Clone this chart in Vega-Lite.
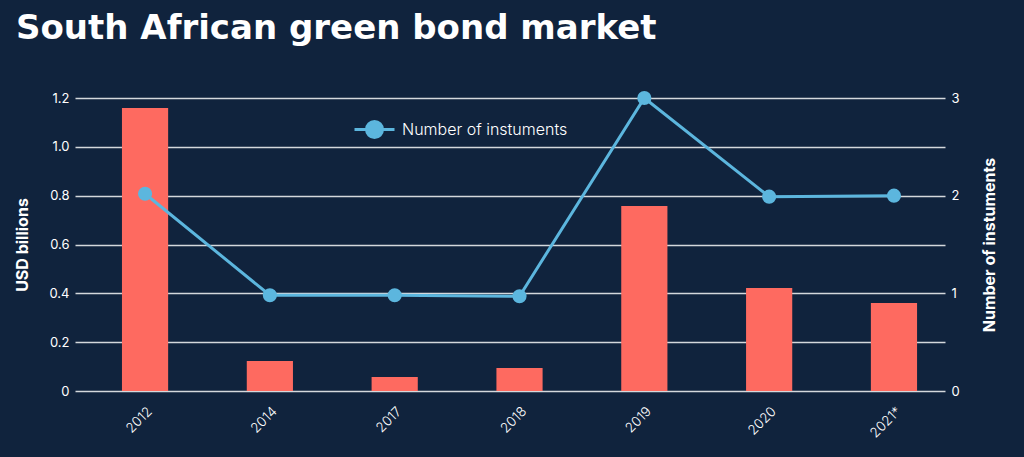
{
  "$schema": "https://vega.github.io/schema/vega-lite/v6.json",
  "autosize": "none",
  "width": 870,
  "height": 293,
  "padding": {"left": 75, "top": 98, "right": 79, "bottom": 66},
  "background": "#10233d",
  "title": {
    "text": "South African green bond market",
    "anchor": "start",
    "frame": "group",
    "dx": -59,
    "baseline": "alphabetic",
    "offset": 18,
    "fontSize": 34,
    "font": "DejaVu Sans",
    "fontWeight": 700,
    "color": "#ffffff"
  },
  "config": {
    "view": {"stroke": null},
    "font": "Inter"
  },
  "data": {
    "values": [
      {"year": "2012", "usd": 1.159, "n": 2.02},
      {"year": "2014", "usd": 0.123, "n": 0.98},
      {"year": "2017", "usd": 0.057, "n": 0.98},
      {"year": "2018", "usd": 0.094, "n": 0.97},
      {"year": "2019", "usd": 0.758, "n": 3.0},
      {"year": "2020", "usd": 0.422, "n": 1.99},
      {"year": "2021*", "usd": 0.36, "n": 2.0}
    ]
  },
  "encoding": {
    "x": {
      "field": "year",
      "type": "nominal",
      "sort": null,
      "scale": {"paddingInner": 0.63, "paddingOuter": 0.3, "align": 0.627},
      "axis": {
        "title": null,
        "labelAngle": -45,
        "labelColor": "#ffffff",
        "labelFontSize": 13.5,
        "labelFontWeight": 300,
        "labelPadding": 13,
        "labelDx": 6,
        "domain": false,
        "ticks": false
      }
    }
  },
  "layer": [
    {
      "mark": {"type": "bar", "color": "#fe6a60"},
      "encoding": {
        "y": {
          "field": "usd",
          "type": "quantitative",
          "scale": {"domain": [0, 1.2], "nice": false},
          "axis": {
            "title": "USD billions",
            "titleColor": "#ffffff",
            "titleFontSize": 16,
            "titleFontWeight": 700,
            "titlePadding": 18,
            "values": [0, 0.2, 0.4, 0.6, 0.8, 1.0, 1.2],
            "labelExpr": "datum.value == 0 ? '0' : format(datum.value, '.1f')",
            "labelColor": "#ffffff",
            "labelFontSize": 13,
            "labelPadding": 6,
            "domain": false,
            "ticks": false,
            "grid": true,
            "gridColor": "#d4d8dc",
            "gridWidth": 1.5
          }
        }
      }
    },
    {
      "mark": {"type": "line", "strokeWidth": 3, "point": {"size": 200, "filled": true, "opacity": 1}},
      "encoding": {
        "y": {
          "field": "n",
          "type": "quantitative",
          "scale": {"domain": [0, 3], "nice": false},
          "axis": {
            "orient": "right",
            "title": "Number of instuments",
            "titleAngle": 270,
            "titleColor": "#ffffff",
            "titleFontSize": 16,
            "titleFontWeight": 700,
            "titlePadding": 38,
            "values": [0, 1, 2, 3],
            "labelColor": "#ffffff",
            "labelFontSize": 13,
            "labelPadding": 6,
            "domain": false,
            "ticks": false,
            "grid": false
          }
        },
        "color": {
          "datum": "Number of instuments",
          "type": "nominal",
          "scale": {"range": ["#5cb6de"]},
          "legend": {
            "title": null,
            "orient": "none",
            "legendX": 282,
            "legendY": 14,
            "symbolType": "M-1.25,0H1.25M0.5,0A0.5,0.5 0 1 1 -0.5,0A0.5,0.5 0 1 1 0.5,0",
            "symbolSize": 1024,
            "symbolStrokeWidth": 3,
            "symbolFillColor": "#5cb6de",
            "symbolStrokeColor": "#5cb6de",
            "symbolOpacity": 1,
            "labelColor": "#ffffff",
            "labelFontSize": 16,
            "labelFontWeight": 300,
            "labelOffset": 10,
            "labelLimit": 400
          }
        }
      }
    }
  ],
  "resolve": {"scale": {"y": "independent"}}
}
